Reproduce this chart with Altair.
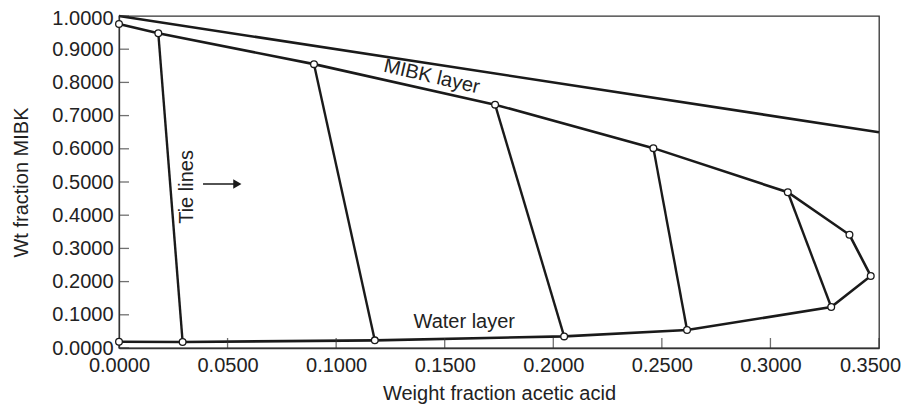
import altair as alt
import pandas as pd

# Binodal curve (ordered path: water layer -> plait -> MIBK layer)
curve_acid = [0.0, 0.0293, 0.1178, 0.205, 0.2616, 0.328, 0.3462, 0.3364, 0.308, 0.2461, 0.1732, 0.0898, 0.0181, 0.0]
curve_mibk = [0.019, 0.018, 0.023, 0.035, 0.054, 0.1235, 0.217, 0.341, 0.469, 0.602, 0.733, 0.855, 0.948, 0.976]

# Tie lines
tie_water_acid = [0.0293, 0.1178, 0.205, 0.2616, 0.328]
tie_water_mibk = [0.018, 0.023, 0.035, 0.054, 0.1235]
tie_mibk_acid = [0.0181, 0.0898, 0.1732, 0.2461, 0.308]
tie_mibk_mibk = [0.948, 0.855, 0.733, 0.602, 0.469]

# Zero-water limit line
limit_acid = [0.0, 0.35]
limit_mibk = [1.0, 0.65]

x_ticks = [0.0, 0.05, 0.10, 0.15, 0.20, 0.25, 0.30, 0.35]
y_ticks = [0.0, 0.1, 0.2, 0.3, 0.4, 0.5, 0.6, 0.7, 0.8, 0.9, 1.0]

# Annotations
ann_text = ["MIBK layer", "Water layer", "Tie lines"]
ann_acid = [0.144, 0.159, 0.0313]
ann_mibk = [0.817, 0.078, 0.485]
ann_angle = [13, 0, 270]

arrow_acid = [0.0387, 0.0545]
arrow_mibk = [0.494, 0.494]

FONT = "Liberation Sans"
INK = "#1a1a1a"

curve_df = pd.DataFrame({"acid": curve_acid, "mibk": curve_mibk, "order": list(range(len(curve_acid)))})
tie_df = pd.DataFrame({"acid": tie_water_acid, "mibk": tie_water_mibk, "a2": tie_mibk_acid, "m2": tie_mibk_mibk})
limit_df = pd.DataFrame({"acid": limit_acid, "mibk": limit_mibk})
xt_df = pd.DataFrame({"acid": x_ticks, "mibk": [0.0] * len(x_ticks)})
yt_df = pd.DataFrame({"mibk": y_ticks, "acid": [0.0] * len(y_ticks)})

xs = alt.Scale(domain=[0, 0.35], nice=False, zero=False)
ys = alt.Scale(domain=[0, 1.0], nice=False, zero=False)

x_axis = alt.Axis(values=x_ticks, format=".4f", title="Weight fraction acetic acid",
                  ticks=False, labelPadding=7, titlePadding=8, labelFlush=False,
                  labelOverlap=False,
                  labelOffset={"condition": {"test": "datum.value >= 0.349", "value": -9}, "value": 0})
y_axis = alt.Axis(values=y_ticks, format=".4f", title="Wt fraction MIBK",
                  ticks=False, labelPadding=6, titlePadding=20, labelFlush=False,
                  labelOverlap=False,
                  labelOffset={"condition": {"test": "datum.value >= 0.999", "value": 2}, "value": 0})

X = alt.X("acid:Q", scale=xs, axis=x_axis)
Y = alt.Y("mibk:Q", scale=ys, axis=y_axis)

limit = alt.Chart(limit_df).mark_line(color=INK, strokeWidth=2.6).encode(x=X, y=Y)

curve = alt.Chart(curve_df).mark_line(color=INK, strokeWidth=2.6).encode(
    x=X, y=Y, order="order:Q")

ties = alt.Chart(tie_df).mark_rule(color=INK, strokeWidth=2.4).encode(
    x=X, y=Y, x2="a2:Q", y2="m2:Q")

pts = alt.Chart(curve_df).mark_point(shape="circle", filled=True, fill="white",
                                     stroke=INK, strokeWidth=1.3, size=45, opacity=1).encode(
    x=X, y=Y)

xticks = alt.Chart(xt_df).mark_tick(orient="vertical", size=10, thickness=1.3,
                                    color="#333333", yOffset=-5).encode(x=X, y=Y)
yticks = alt.Chart(yt_df).mark_tick(orient="horizontal", size=10, thickness=1.3,
                                    color="#333333", xOffset=5).encode(x=X, y=Y)

ann_df = pd.DataFrame({"t": ann_text, "acid": ann_acid, "mibk": ann_mibk, "ang": ann_angle})
anns = alt.Chart(ann_df).mark_text(font=FONT, fontSize=20, color="#222222",
                                   align="center", baseline="middle").encode(
    x=X, y=Y, text="t:N", angle=alt.Angle("ang:Q", scale=None))

arrow_df = pd.DataFrame({"acid": arrow_acid, "mibk": arrow_mibk})
arrow_line = alt.Chart(arrow_df).mark_line(color=INK, strokeWidth=1.6).encode(x=X, y=Y)
arrow_head = alt.Chart(arrow_df.iloc[[1]]).mark_point(shape="triangle-right", filled=True,
                                                      color=INK, size=90, opacity=1).encode(
    x=X, y=Y)

chart = alt.layer(limit, curve, ties, xticks, yticks, pts, anns, arrow_line, arrow_head).properties(
    width=760, height=332,
    autosize=alt.AutoSizeParams(type="none"),
    padding={"left": 111, "top": 8, "right": 22, "bottom": 56},
).configure_axis(
    labelFont=FONT, titleFont=FONT, labelFontSize=20, titleFontSize=20,
    labelColor="#222222", titleColor="#222222", titleFontWeight="normal",
    grid=False, domainColor="#333333", domainWidth=1.3, labelOverlap=False,
).configure_view(stroke="#333333", strokeWidth=1.3)

chart.save("out.html", embed_options={"renderer": "svg", "actions": False})
